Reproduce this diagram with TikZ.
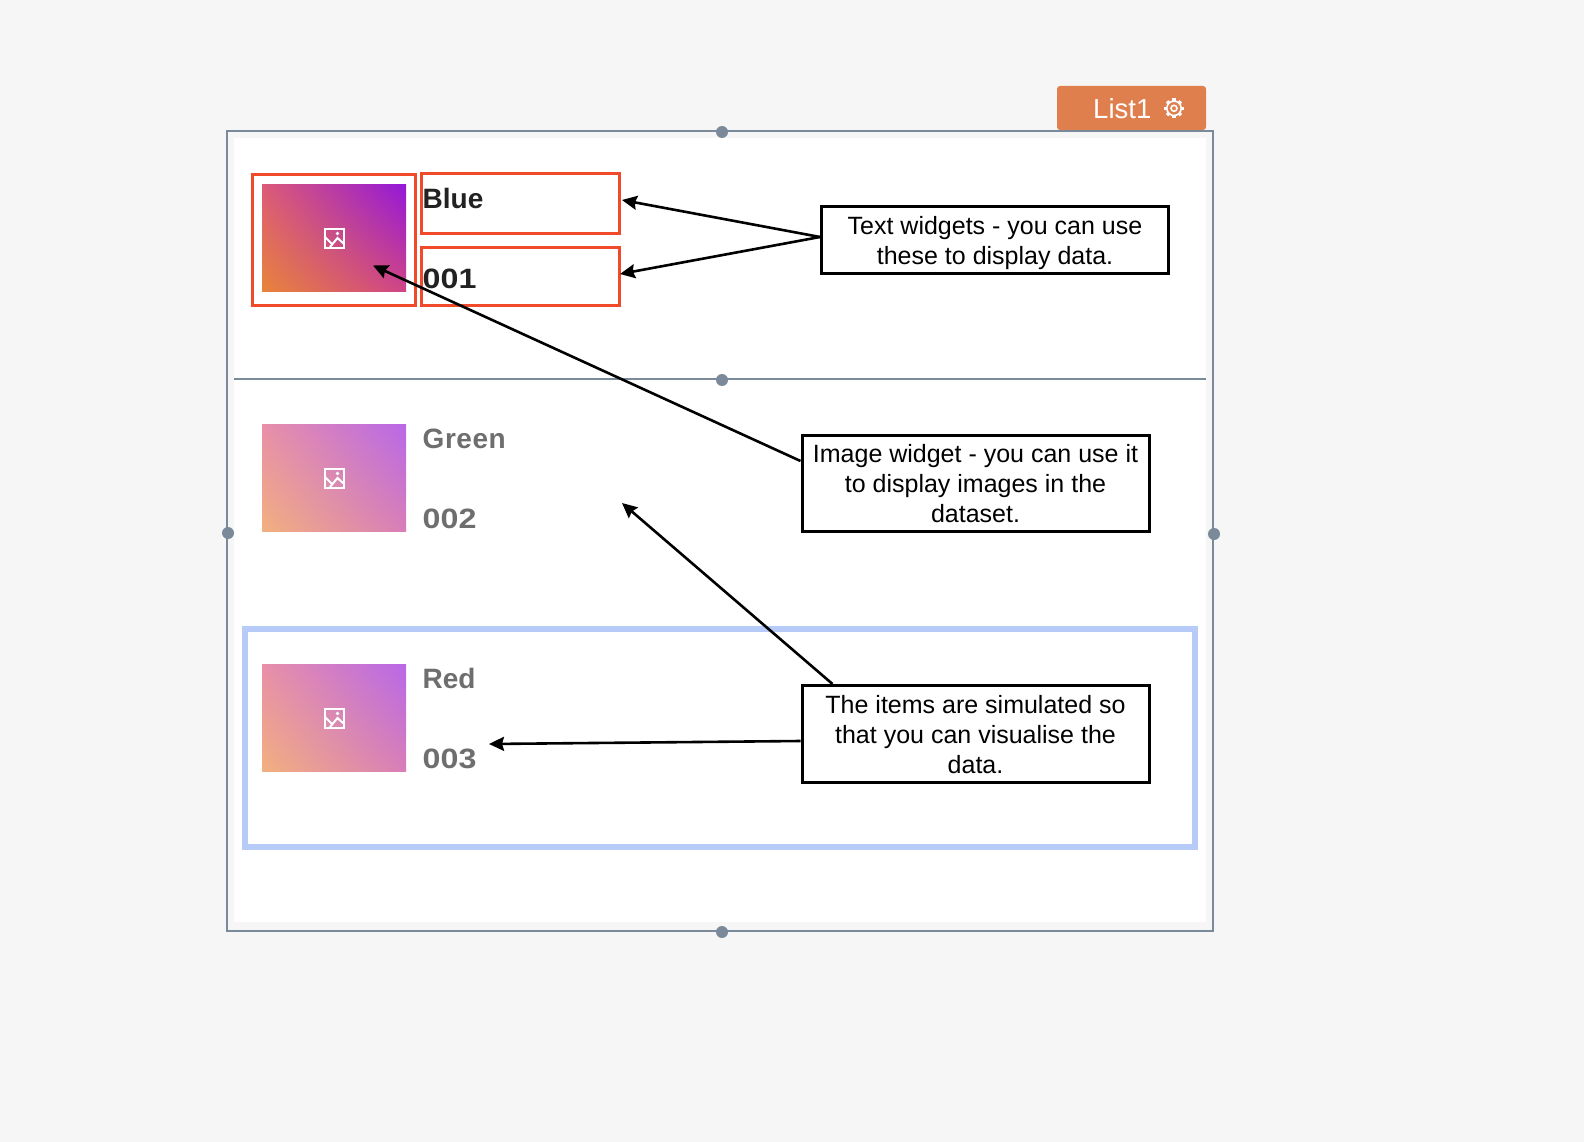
\documentclass[tikz,border=0pt]{standalone}
\usepackage{fontspec}
\setmainfont{Liberation Sans}
\usetikzlibrary{positioning,arrows.meta,shadings}
\definecolor{pagebg}{HTML}{F6F6F6}
\definecolor{framegrey}{HTML}{7A8A9A}
\definecolor{tabcol}{HTML}{DF7F4E}
\definecolor{widgetred}{HTML}{F04A2A}
\definecolor{rowblue}{HTML}{B6CBF7}
\definecolor{itemdark}{HTML}{222222}
\definecolor{itemgrey}{HTML}{6E6E6E}
\definecolor{liveLL}{HTML}{E8843A}
\definecolor{liveUR}{HTML}{9318D8}
\definecolor{liveUL}{HTML}{DC5A78}
\definecolor{liveLR}{HTML}{D04488}
\definecolor{dimLL}{HTML}{F2B07F}
\definecolor{dimUR}{HTML}{B868E8}
\definecolor{dimUL}{HTML}{E88FA8}
\definecolor{dimLR}{HTML}{D87EB8}
\tikzset{
  thumb/.style={inner sep=0pt,minimum width=144pt,minimum height=107pt},
  livethumb/.style={thumb,lower left=liveLL,upper right=liveUR,upper left=liveUL,lower right=liveLR},
  dimthumb/.style={thumb,lower left=dimLL,upper right=dimUR,upper left=dimUL,lower right=dimLR},
  redframe/.style={draw=widgetred,line width=3pt,inner sep=0pt},
  note/.style={draw=black,fill=white,line width=3pt,inner sep=0pt,align=center,
    minimum width=347pt,font=\fontsize{25}{30}\selectfont},
  itemlabel/.style={anchor=base west,inner sep=0pt,font=\fontsize{28}{32}\selectfont\bfseries},
  itemnumber/.style={anchor=base west,inner sep=0pt,font=\fontsize{28}{32}\selectfont\bfseries\addfontfeature{FakeStretch=1.15}},
  handle/.style={circle,fill=framegrey,inner sep=0pt,minimum size=12pt},
  callout/.style={line width=2.6pt,-{Stealth[length=15pt,width=14pt,inset=2pt]}},
  imgicon/.pic={
    \draw[white,line width=2pt] (-9.5,-9.5) rectangle (9.5,9.5);
    \draw[white,line width=2pt] (-9.5,-1.5) -- (-1.5,6.5) (-4,9) -- (3.5,0) -- (9.5,5.5);
    \fill[white] (3.5,-4.5) circle (1.8);
  },
  gearicon/.pic={
    \foreach \a in {0,45,...,315}
      \draw[white,line width=3.4pt] (0,0) -- (\a:9.8);
    \draw[white,fill=tabcol,line width=1.6pt] (0,0) circle (7.2);
    \draw[white,line width=1.6pt] (0,0) circle (3);
  }
}
\begin{document}
\begin{tikzpicture}[x=1pt,y=-1pt]
  \fill[pagebg] (0,0) rectangle (1584,1142);
  \useasboundingbox (0,0) rectangle (1584,1142);

  \node[fill=tabcol,rounded corners=3pt,inner sep=0pt,minimum width=149pt,minimum height=44pt] (listtab) at (1131.5,108) {};
  \node[anchor=base west,inner sep=0pt,text=white,font=\fontsize{27.5}{30}\selectfont] (listname) at (1093,119) {List1};
  \pic at (1174,108.3) {gearicon};

  \draw[framegrey,line width=2pt] (226.5,131) rectangle (1213,930.5);
  \fill[white] (234,138) rectangle (1206,922);
  \draw[framegrey,line width=2pt] (234,379) -- (1206,379);

  \draw[rowblue,line width=6pt] (245,629) rectangle (1195,847);

  \node[redframe,minimum width=163pt,minimum height=131pt] (imgframe) at (334,240) {};
  \node[redframe,minimum width=198pt,minimum height=59pt] (blueframe) at (520.5,203.5) {};
  \node[redframe,minimum width=198pt,minimum height=58pt] (idframe) at (520.5,276.5) {};

  \node[livethumb] (bluethumb) at (334,238) {};
  \node[dimthumb] (greenthumb) at (334,478) {};
  \node[dimthumb] (redthumb) at (334,718) {};
  \foreach \t in {bluethumb,greenthumb,redthumb}
    \pic at (\t.center) {imgicon};

  \node[itemlabel,text=itemdark] (bluename) at (422.5,208) {Blue};
  \node[itemnumber,text=itemdark] (blueid) at (422.5,288) {001};
  \node[itemlabel,text=itemgrey] (greenname) at (422.5,448) {\addfontfeature{LetterSpace=2}Green};
  \node[itemnumber,text=itemgrey] (greenid) at (422.5,528) {002};
  \node[itemlabel,text=itemgrey] (redname) at (422.5,688) {Red};
  \node[itemnumber,text=itemgrey] (redid) at (422.5,768) {003};

  \foreach \hname/\hx/\hy in {htop/722/132,hmid/722/380,hleft/228/533,hright/1214/534,hbottom/722/932}
    \node[handle] (\hname) at (\hx,\hy) {};

  \node[note,minimum height=67pt] (textnote) at (995,240)
    {\rule{0pt}{24pt}Text widgets - you can use\\these to display data.};
  \node[note,minimum height=96pt] (imagenote) at (975.5,483)
    {\rule{0pt}{20pt}Image widget - you can use it\\to display images in the\\dataset.};
  \node[note,minimum height=97pt] (itemsnote) at (975.5,734)
    {\rule{0pt}{20pt}The items are simulated so\\that you can visualise the\\data.};

  \coordinate (bluetip) at (622,200);
  \coordinate (idtip) at (620,274);
  \coordinate (thumbtip) at (373,265.5);
  \coordinate (rowtip) at (622,503);
  \coordinate (redtip) at (489,744);

  \draw[callout] ([yshift=3pt]textnote.west) -- (bluetip);
  \draw[callout] ([yshift=3pt]textnote.west) -- (idtip);
  \draw[callout] ([yshift=22pt]imagenote.west) -- (thumbtip);
  \draw[callout] ([xshift=-143pt]itemsnote.north) -- (rowtip);
  \draw[callout] ([yshift=-7pt]itemsnote.west) -- (redtip);
\end{tikzpicture}
\end{document}
